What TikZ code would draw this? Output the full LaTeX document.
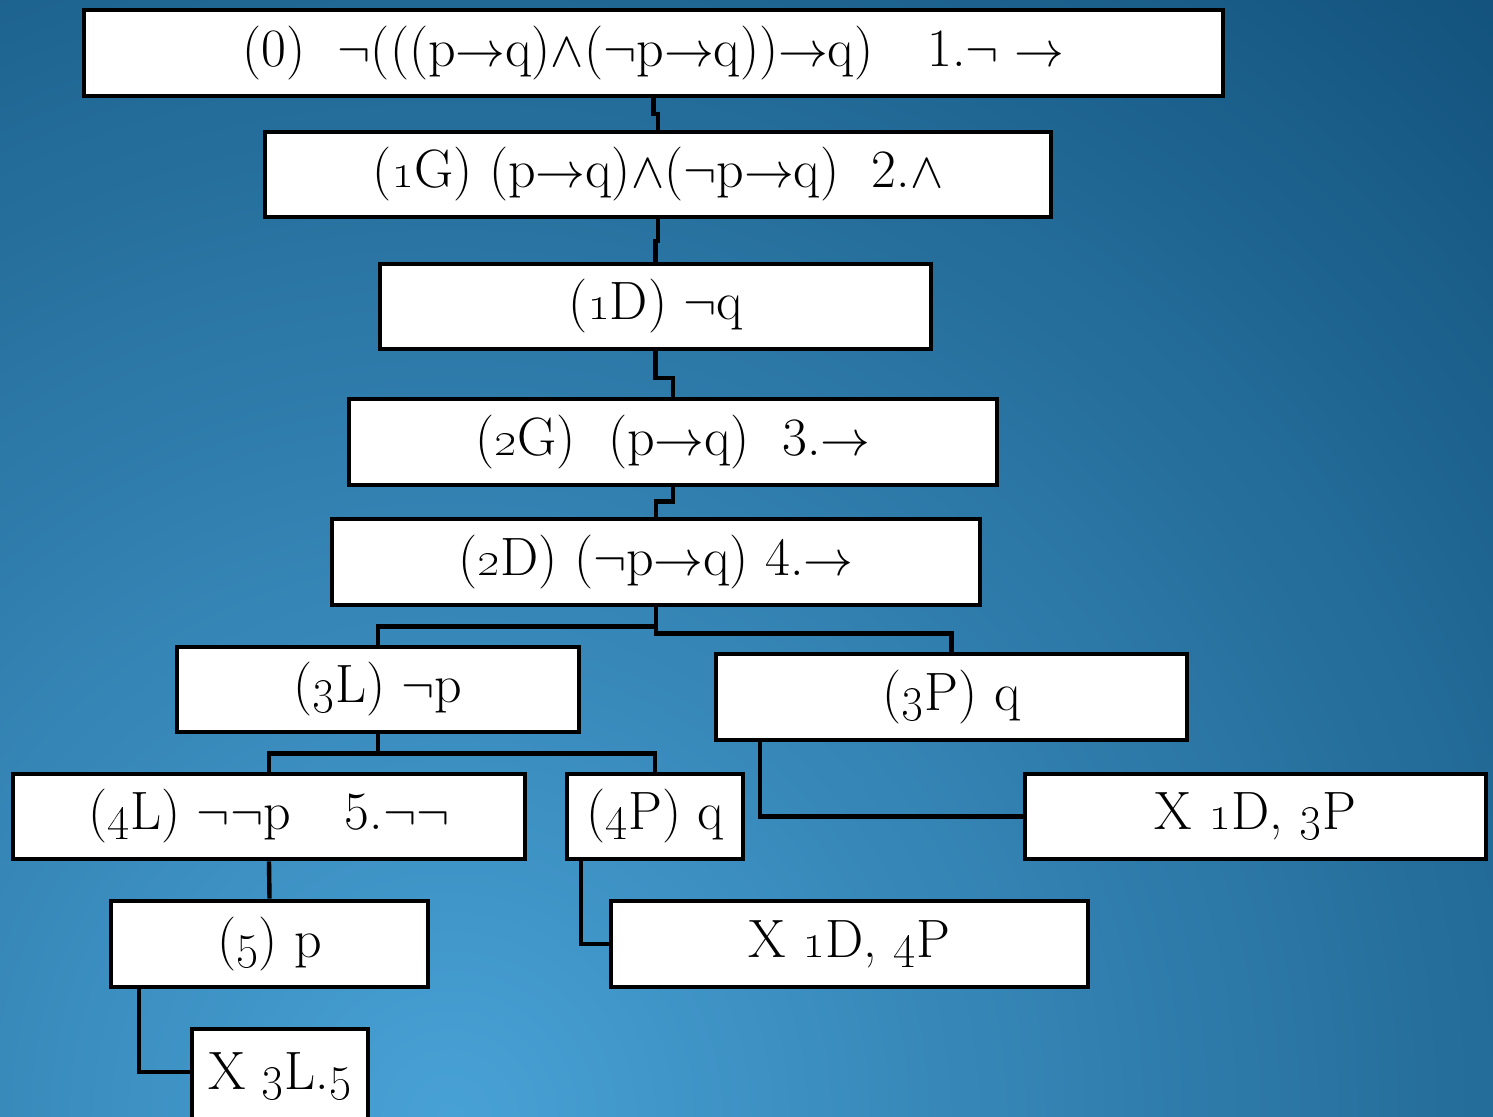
\documentclass[tikz,border=0pt]{standalone}
\usepackage{tikz}
\definecolor{bgLight}{RGB}{72,161,213}
\definecolor{bgDark}{RGB}{16,79,121}
\newcommand{\tImp}{\ensuremath{\mathord{\to}}}
\newcommand{\tAnd}{\ensuremath{\mathord{\wedge}}}
\newcommand{\tNeg}{\ensuremath{\mathord{\neg}}}
\newcommand{\osn}[1]{\oldstylenums{#1}}
\begin{document}
\begin{tikzpicture}[x=0.5pt,y=-0.5pt,
    tbox/.style={draw=black,line width=2.3pt,fill=white,rectangle,inner sep=0pt,
      font=\fontsize{27}{32}\selectfont},
    link/.style={draw=black,line width=2.2pt}]
  \clip (0,0) rectangle (1493,1117);
  \shade[inner color=bgLight,outer color=bgDark] (450,1117) circle (1600);
  % trunk
  \node[tbox,minimum width=569.5pt,minimum height=43pt] (n0) at (653.5,53)
    {(0)\ \ \tNeg(((p\tImp q)\tAnd(\tNeg p\tImp q))\tImp q)\quad 1.\tNeg\ \tImp};
  \node[tbox,minimum width=393pt,minimum height=42.5pt] (n1G) at (658,174.5)
    {(\osn{1}G) (p\tImp q)\tAnd(\tNeg p\tImp q)\ \ 2.\tAnd};
  \node[tbox,minimum width=275.5pt,minimum height=42.5pt] (n1D) at (655.5,306.5)
    {(\osn{1}D) \tNeg q};
  \node[tbox,minimum width=324pt,minimum height=43pt] (n2G) at (673,442)
    {(\osn{2}G)\ \ (p\tImp q)\ \ 3.\tImp};
  \node[tbox,minimum width=324pt,minimum height=43pt] (n2D) at (656,562)
    {(\osn{2}D) (\tNeg p\tImp q) 4.\tImp};
  % branches
  \node[tbox,minimum width=201pt,minimum height=42.5pt] (n3L) at (378,689.5)
    {(\osn{3}L) \tNeg p};
  \node[tbox,minimum width=235.5pt,minimum height=43pt] (n3P) at (951.5,697)
    {(\osn{3}P) q};
  \node[tbox,minimum width=256pt,minimum height=42.5pt] (n4L) at (269,816.5)
    {(\osn{4}L) \tNeg\tNeg p\quad 5.\tNeg\tNeg};
  \node[tbox,minimum width=88pt,minimum height=42.5pt] (n4P) at (655,816.5)
    {(\osn{4}P) q};
  \node[tbox,minimum width=230.5pt,minimum height=42.5pt] (nX3P) at (1255.5,816.5)
    {X \osn{1}D, \osn{3}P};
  \node[tbox,minimum width=158.5pt,minimum height=43pt] (n5) at (269.5,944)
    {(\osn{5}) p};
  \node[tbox,minimum width=238.5pt,minimum height=43pt] (nX4P) at (849.5,944)
    {X \osn{1}D, \osn{4}P};
  \node[tbox,minimum width=88pt,minimum height=47pt] (nX5) at (280,1076)
    {X \osn{3}L.\osn{5}};
  % connectors
  \draw[link] (n0.south) -- ++(0,16) -| (n1G.north);
  \draw[link] (n1G.south) -- ++(0,22) -| (n1D.north);
  \draw[link] (n1D.south) -- ++(0,27) -| (n2G.north);
  \draw[link] (n2G.south) -- ++(0,14) -| (n2D.north);
  \draw[link] (n2D.south) -- ++(0,19) -| (n3L.north);
  \draw[link] (n2D.south) -- ++(0,26) -| (n3P.north);
  \draw[link] (n3L.south) -- ++(0,19) -| (n4L.north);
  \draw[link] (n3L.south) -- ++(0,19) -| (n4P.north);
  \draw[link] (n4L.south) -- (n5.north);
  \draw[link] ([xshift=23pt]n3P.south west) |- (nX3P.west);
  \draw[link] ([xshift=8pt]n4P.south west) |- (nX4P.west);
  \draw[link] ([xshift=15pt]n5.south west) |- ([yshift=2pt]nX5.west);
\end{tikzpicture}
\end{document}
